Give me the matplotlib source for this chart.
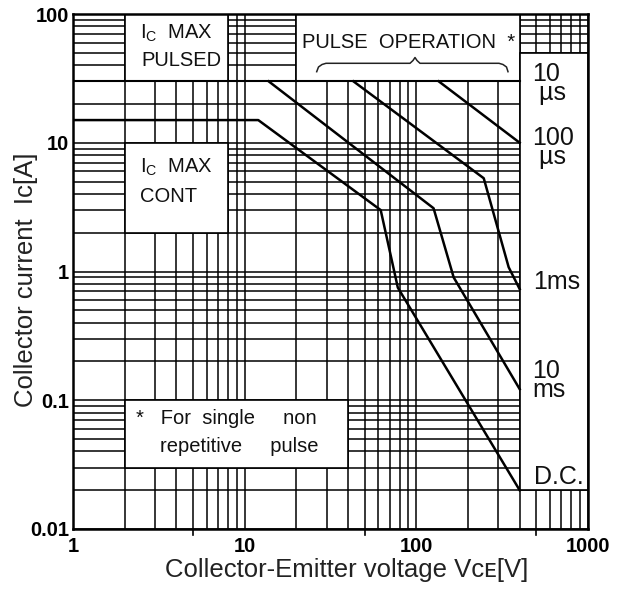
import matplotlib
matplotlib.use("Agg")
import matplotlib.pyplot as plt
from matplotlib.patches import Rectangle
from matplotlib.ticker import LogLocator, NullFormatter, FixedLocator, FixedFormatter
from matplotlib import font_manager as fm
from matplotlib.transforms import blended_transform_factory

# ---------------- data ----------------
x_ticks = [1, 10, 100, 1000]
x_tick_labels = ["1", "10", "100", "1000"]
y_ticks = [0.01, 0.1, 1, 10, 100]
y_tick_labels = ["0.01", "0.1", "1", "10", "100"]
x_marks = [5, 50, 500]

# 10 us limit (Ic max pulsed)
us10_v = [1, 400]
us10_i = [30, 30]
# 100 us
us100_v = [135, 400]
us100_i = [30, 10]
# 1 ms
ms1_v = [43, 247, 345, 400]
ms1_i = [30, 5.3, 1.08, 0.73]
# 10 ms
ms10_v = [13.8, 126, 165, 400]
ms10_i = [30, 3.1, 0.9, 0.122]
# D.C.
dc_v = [1, 12, 62, 78, 400]
dc_i = [15, 15, 3.0, 0.75, 0.02]

# ---------------- fonts ----------------
def has_font(name):
    try:
        fm.findfont(fm.FontProperties(family=name), fallback_to_default=False)
        return True
    except Exception:
        return False

plt.rcParams["mathtext.default"] = "regular"
if has_font("Liberation Sans Narrow"):
    box_family = ["Liberation Sans Narrow", "DejaVu Sans"]
    box_size = 17
else:
    box_family = ["Liberation Sans", "DejaVu Sans"]
    box_size = 14.5
sans = ["Liberation Sans", "DejaVu Sans"]

# ---------------- figure ----------------
W, H = 638, 590
L, R, T, B = 73, 588, 14, 529
fig = plt.figure(figsize=(W / 100, H / 100), dpi=100)
fig.patch.set_facecolor("white")
ax = fig.add_axes([L / W, 1 - B / H, (R - L) / W, (B - T) / H])
ax.set_xscale("log")
ax.set_yscale("log")
ax.set_xlim(1, 1000)
ax.set_ylim(0.01, 100)


def af(px, py):
    return ((px - L) / (R - L), (B - py) / (B - T))


# grid
ax.xaxis.set_major_locator(FixedLocator(x_ticks))
ax.xaxis.set_major_formatter(FixedFormatter(x_tick_labels))
ax.yaxis.set_major_locator(FixedLocator(y_ticks))
ax.yaxis.set_major_formatter(FixedFormatter(y_tick_labels))
sub = [2, 3, 4, 5, 6, 7, 8, 9]
ax.xaxis.set_minor_locator(LogLocator(base=10, subs=sub, numticks=20))
ax.yaxis.set_minor_locator(LogLocator(base=10, subs=sub, numticks=20))
ax.xaxis.set_minor_formatter(NullFormatter())
ax.yaxis.set_minor_formatter(NullFormatter())
ax.set_axisbelow(True)
ax.grid(which="both", color="black", lw=1.1)
ax.tick_params(which="both", length=0)
ax.tick_params(axis="x", which="major", pad=6)
ax.tick_params(axis="y", which="major", pad=3)
for lab in ax.get_xticklabels() + ax.get_yticklabels():
    lab.set_fontfamily(sans)
    lab.set_fontweight("bold")
    lab.set_fontsize(14.5)
for s in ax.spines.values():
    s.set_linewidth(1.8)
    s.set_color("black")
    s.set_zorder(5)

# small tick marks below the x axis
bt = blended_transform_factory(ax.transData, ax.transAxes)
for xv in x_marks:
    ax.plot([xv, xv], [0, -0.012], transform=bt, color="black", lw=1.2, clip_on=False)

# white boxes (x0, x1, y0, y1)
boxes = [(2, 8, 30, 100), (2, 8, 2, 10), (20, 400, 30, 100),
         (2, 40, 0.03, 0.1), (400, 1000, 0.02, 50)]
for x0, x1, y0, y1 in boxes:
    ax.add_patch(Rectangle((x0, y0), x1 - x0, y1 - y0, facecolor="white",
                           edgecolor="black", lw=1.2, zorder=1))

# curves
ax.plot(us10_v, us10_i, color="black", lw=1.5, zorder=3)
for v, i in [(us100_v, us100_i), (ms1_v, ms1_i), (ms10_v, ms10_i), (dc_v, dc_i)]:
    ax.plot(v, i, color="black", lw=1.8, zorder=3, solid_joinstyle="round")

# box texts
bt_kw = dict(transform=ax.transAxes, ha="left", va="center", family=box_family,
             fontsize=box_size, color="#111111", zorder=4)
ax.text(*af(140, 33), r"I$_{\mathdefault{C}}$  MAX", **bt_kw)
ax.text(*af(141, 60), "PULSED", **bt_kw)
ax.text(*af(140, 167), r"I$_{\mathdefault{C}}$  MAX", **bt_kw)
ax.text(*af(140, 197), "CONT", **bt_kw)
ax.text(*af(302, 42), "PULSE  OPERATION  *", **bt_kw)
ax.text(*af(136, 419), "*   For  single     non", **bt_kw)
ax.text(*af(160, 447), "repetitive     pulse", **bt_kw)

# brace under PULSE OPERATION
brace_px = [(316.7, 71.7), (318.5, 67), (322, 64.5), (326, 63.3), (410, 63.3),
            (413, 60.5), (415, 57.5), (417, 60.5), (420, 63.3), (499, 63.3),
            (503, 64.5), (506.5, 67), (508, 71.7)]
bx = [af(p[0], p[1])[0] for p in brace_px]
by = [af(p[0], p[1])[1] for p in brace_px]
ax.plot(bx, by, transform=ax.transAxes, color="#222222", lw=1.1, zorder=4)

# curve labels in right column (anchored at the baseline of the last line)
rl_kw = dict(transform=ax.transAxes, ha="left", va="baseline", family=sans,
             fontsize=18, color="#111111", zorder=4, linespacing=0.72)
ax.text(*af(532, 100), "10\n µs", **rl_kw)
ax.text(*af(532, 164), "100\n µs", **rl_kw)
ax.text(*af(533, 289), "1ms", **rl_kw)
ax.text(*af(532, 397), "10\nms", **rl_kw)
ax.text(*af(534, 484), "D.C.", **rl_kw)

# axis labels
fig.text(347 / W, 1 - 570 / H, "Collector-Emitter voltage Vᴄᴇ[V]", ha="center",
         va="center", family=sans, fontsize=18.5, color="#222222")
fig.text(26 / W, 1 - 280 / H, "Collector current  Iᴄ[A]", ha="center", va="center",
         rotation=90, family=sans, fontsize=18.5, color="#222222")

fig.savefig("out.png", dpi=100, facecolor="white")
